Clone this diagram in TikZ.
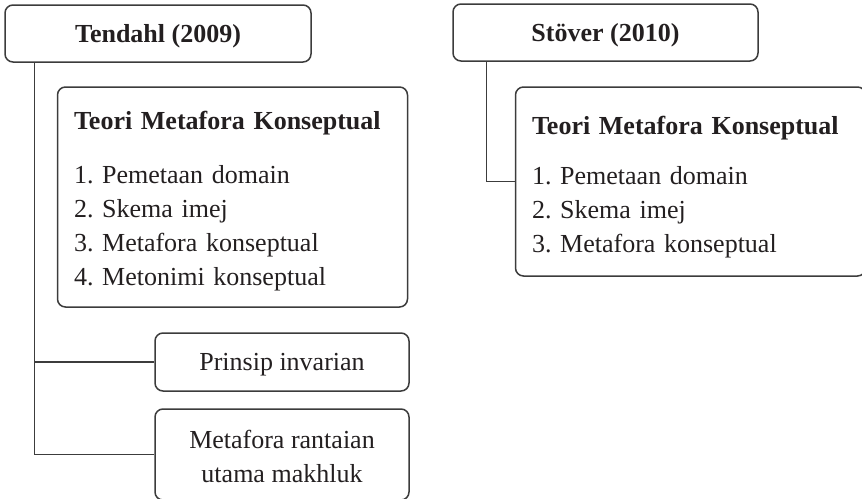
\documentclass[tikz,border=0pt]{standalone}
\usepackage{fontspec}
\setmainfont{Liberation Serif}
\usepackage{xcolor}
\usepackage{tikz}
\frenchspacing

\definecolor{linegray}{HTML}{3C3C3C}
\definecolor{inkblack}{HTML}{231F20}

\tikzset{
	roundbox/.style={draw=linegray, line width=0.75pt, rounded corners=4pt, inner sep=0pt,
		text=inkblack, font=\fontsize{13}{17}\selectfont},
	headbox/.style={roundbox, minimum height=28.5pt, text depth=0pt, font=\fontsize{13}{17}\selectfont\bfseries},
	listbox/.style={roundbox, align=left, text width=158.5pt, inner xsep=8.25pt},
	leafbox/.style={roundbox, align=center, minimum width=127pt},
	conn/.style={draw=linegray, line width=0.75pt},
}

\begin{document}
\begin{tikzpicture}[x=0.5pt, y=-0.5pt]
	 \path[use as bounding box, clip] (0,0) rectangle (862,498);
	 % Tendahl
	 \node[headbox, minimum width=153pt] (tendahl) at (158,33.5) {Tendahl (2009)};
	 \node[listbox, minimum height=110pt] (teori1) at (232.5,197) {\rule{0pt}{13pt}\textbf{Teori Metafora Konseptual}\\[10pt]
		1. Pemetaan domain\\
		2. Skema imej\\
		3. Metafora konseptual\\
		4. Metonimi konseptual};
	 \node[leafbox, minimum height=29pt, text depth=0pt] (prinsip) at (282,362) {Prinsip invarian};
	 \node[leafbox, minimum height=45.5pt] (makhluk) at (282,454.5) {\rule{0pt}{11pt}Metafora rantaian\\utama makhluk};
	 % Stover
	 \node[headbox, minimum width=152.5pt] (stover) at (605.5,32.5) {Stöver (2010)};
	 \node[listbox, minimum height=94.5pt] (teori2) at (690.5,181.5) {\rule{0pt}{15pt}\textbf{Teori Metafora Konseptual}\\[8pt]
		1. Pemetaan domain\\
		2. Skema imej\\
		3. Metafora konseptual};
	 \draw[conn] ([xshift=15pt]tendahl.south west) |- (prinsip.west);
	 \draw[conn] ([xshift=15pt]tendahl.south west) |- (makhluk.west);
	 \draw[conn] ([xshift=17pt]stover.south west) |- (teori2.west);
	 \end{tikzpicture}
\end{document}
